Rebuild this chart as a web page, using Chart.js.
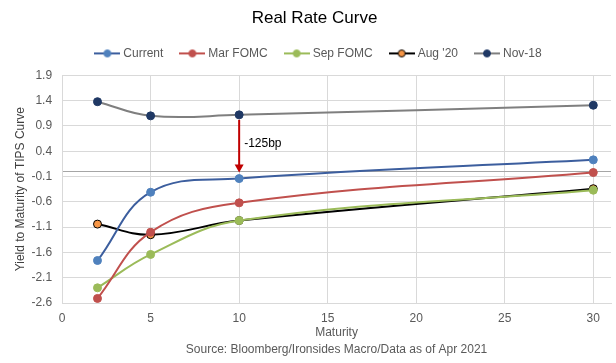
<!DOCTYPE html>
<html>
<head>
<meta charset="utf-8">
<script src="https://cdn.jsdelivr.net/npm/chart.js@4"></script>
<style>
  html, body { margin: 0; padding: 0; background: #fff; }
  #wrap { width: 616px; height: 363px; }
</style>
</head>
<body>
<div id="wrap"><canvas id="grafico"></canvas></div>
<script>
const maturidades = [2, 5, 10, 30];
const current = [-1.76, -0.41, -0.14, 0.23];
const marFomc = [-2.51, -1.20, -0.62, -0.02];
const sepFomc = [-2.30, -1.64, -0.97, -0.37];
const aug20 = [-1.04, -1.25, -0.97, -0.34];
const nov18 = [1.38, 1.10, 1.12, 1.31];
const nomesSeries = ['Current', 'Mar FOMC', 'Sep FOMC', "Aug '20", 'Nov-18'];
const ticksX = [0, 5, 10, 15, 20, 25, 30];

function pontos(valores) {
    return maturidades.map((m, i) => ({ x: m, y: valores[i] }));
}

function marcadorLegenda(corLinha, corPonto, corBorda) {
    const c = document.createElement('canvas');
    c.width = 26; c.height = 10;
    const ctx = c.getContext('2d');
    ctx.strokeStyle = corLinha;
    ctx.lineWidth = 2;
    ctx.beginPath(); ctx.moveTo(0, 5); ctx.lineTo(26, 5); ctx.stroke();
    ctx.fillStyle = corPonto;
    ctx.strokeStyle = corBorda;
    ctx.lineWidth = 1;
    ctx.beginPath(); ctx.arc(13, 5, 3.5, 0, Math.PI * 2); ctx.fill(); ctx.stroke();
    return c;
}

function serie(nome, valores, corLinha, corPonto, corBorda) {
    return {
        label: nome,
        data: pontos(valores),
        borderColor: corLinha,
        backgroundColor: corPonto,
        pointBackgroundColor: corPonto,
        pointBorderColor: corBorda,
        pointBorderWidth: 1,
        pointRadius: 4,
        borderWidth: 2,
        tension: 0.4,
        legendIcon: marcadorLegenda(corLinha, corPonto, corBorda)
    };
}

// seta de -125bp entre Nov-18 e Current no vencimento de 10 anos
const setaPlugin = {
    id: 'seta',
    afterDatasetsDraw(chart) {
        const { ctx, scales } = chart;
        const i = maturidades.indexOf(10);
        const x = scales.x.getPixelForValue(10);
        const y1 = scales.y.getPixelForValue(nov18[i]) + 5;
        const y2 = scales.y.getPixelForValue(current[i]) - 6;
        ctx.save();
        ctx.strokeStyle = '#C00000';
        ctx.fillStyle = '#C00000';
        ctx.lineWidth = 2;
        ctx.beginPath(); ctx.moveTo(x, y1); ctx.lineTo(x, y2 - 7); ctx.stroke();
        ctx.beginPath();
        ctx.moveTo(x - 4.5, y2 - 8); ctx.lineTo(x + 4.5, y2 - 8); ctx.lineTo(x, y2); ctx.closePath();
        ctx.fill();
        ctx.fillStyle = '#000';
        ctx.font = '12px "Liberation Sans", Arial, sans-serif';
        ctx.textBaseline = 'middle';
        ctx.fillText('-125bp', x + 5, (y1 + y2) / 2 - 3);
        ctx.restore();
    }
};

// espaço extra abaixo da legenda e leve deslocamento para a direita
const legendaPlugin = {
    id: 'alturaLegenda',
    beforeInit(chart) {
        const fitOriginal = chart.legend.fit;
        chart.legend.fit = function () {
            fitOriginal.call(this);
            this.height = 47;
            if (this.lineWidths && this.lineWidths.length) this.lineWidths[0] -= 10;
        };
    }
};

const fonte = '"Liberation Sans", Arial, sans-serif';

new Chart(document.getElementById('grafico').getContext('2d'), {
    type: 'line',
    data: {
        datasets: [
            serie(nomesSeries[0], current, '#3C5E9E', '#4F81BD', '#4F81BD'),
            serie(nomesSeries[1], marFomc, '#C0504D', '#C0504D', '#C0504D'),
            serie(nomesSeries[2], sepFomc, '#9BBB59', '#9BBB59', '#9BBB59'),
            serie(nomesSeries[3], aug20, '#000000', '#F79646', '#000000'),
            serie(nomesSeries[4], nov18, '#7F7F7F', '#1F3864', '#1F3864')
        ]
    },
    options: {
        responsive: true,
        maintainAspectRatio: false,
        animation: false,
        layout: { padding: { top: 8, right: 0, left: 13, bottom: 5 } },
        plugins: {
            title: {
                display: true,
                text: 'Real Rate Curve',
                color: '#000',
                font: { family: fonte, size: 17, weight: 'normal' },
                padding: { top: 0, bottom: 0 }
            },
            legend: {
                position: 'top',
                labels: {
                    color: '#595959',
                    font: { family: fonte, size: 12 },
                    usePointStyle: true,
                    pointStyleWidth: 20,
                    boxWidth: 20,
                    padding: 19,
                    generateLabels(chart) {
                        return chart.data.datasets.map((ds, i) => ({
                            text: ds.label,
                            pointStyle: ds.legendIcon,
                            fontColor: '#595959',
                            hidden: !chart.isDatasetVisible(i),
                            datasetIndex: i,
                            lineWidth: 0
                        }));
                    }
                }
            },
            tooltip: { enabled: false }
        },
        scales: {
            x: {
                type: 'linear',
                min: 0,
                max: 31,
                afterBuildTicks(axis) {
                    axis.ticks = ticksX.map(v => ({ value: v }));
                },
                grid: { color: '#D9D9D9', drawTicks: false },
                border: { color: '#D9D9D9' },
                ticks: { color: '#595959', font: { family: fonte, size: 12 }, padding: 8 },
                title: {
                    display: true,
                    text: ['Maturity', 'Source: Bloomberg/Ironsides Macro/Data as of Apr 2021'],
                    color: '#595959',
                    font: { family: fonte, size: 12, lineHeight: 1.4 },
                    padding: { top: -9, bottom: 0 }
                }
            },
            y: {
                min: -2.6,
                max: 1.9,
                ticks: {
                    color: '#595959',
                    font: { family: fonte, size: 12 },
                    padding: 10,
                    callback: v => Math.abs(v) < 1e-9 ? '' : (Math.round(v * 10) / 10).toFixed(1)
                },
                grid: {
                    color: ctx => (ctx.tick && Math.abs(ctx.tick.value) < 1e-9) ? '#A6A6A6' : '#D9D9D9',
                    drawTicks: false
                },
                border: { color: '#D9D9D9' },
                afterBuildTicks(axis) {
                    const t = [];
                    for (let v = -2.6; v <= 1.91; v += 0.5) t.push({ value: Math.round(v * 10) / 10 });
                    t.push({ value: 0 });
                    axis.ticks = t.sort((a, b) => a.value - b.value);
                },
                title: {
                    display: true,
                    text: 'Yield to Maturity of TIPS Curve',
                    color: '#404040',
                    font: { family: fonte, size: 12 },
                    padding: { top: 0, bottom: -6 }
                }
            }
        }
    },
    plugins: [setaPlugin, legendaPlugin]
});
</script>
</body>
</html>
